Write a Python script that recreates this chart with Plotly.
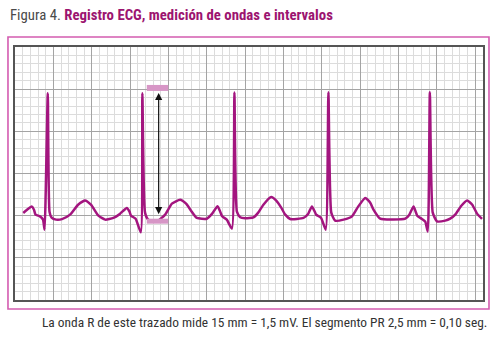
import plotly.graph_objects as go

# ECG trace: time (s) and voltage (mV)
time_s = [0.043, 0.063, 0.087, 0.099, 0.107, 0.130, 0.146, 0.154, 0.171, 0.180,
          0.191, 0.214, 0.245, 0.287, 0.329, 0.365, 0.396, 0.435, 0.470, 0.513,
          0.548, 0.583, 0.597, 0.605, 0.629, 0.656, 0.664, 0.678, 0.695, 0.739,
          0.783, 0.818, 0.861, 0.892, 0.918, 0.948, 1.000, 1.028, 1.056, 1.072,
          1.080, 1.104, 1.131, 1.144, 1.157, 1.174, 1.200, 1.243, 1.268, 1.295,
          1.336, 1.362, 1.388, 1.409, 1.435, 1.504, 1.529, 1.548, 1.563, 1.570,
          1.596, 1.620, 1.634, 1.649, 1.669, 1.713, 1.757, 1.789, 1.826, 1.852,
          1.869, 1.904, 2.035, 2.056, 2.078, 2.089, 2.097, 2.123, 2.139, 2.152,
          2.163, 2.178, 2.200, 2.243, 2.269, 2.295, 2.327, 2.357, 2.384, 2.409,
          2.435]
voltage_mv = [0.032, 0.071, 0.110, 0.071, 0.012, -0.008, -0.047, -0.166, 1.452, 0.047,
              -0.024, -0.047, -0.041, 0.012, 0.130, 0.181, 0.130, 0.000, -0.047, -0.027,
              0.024, 0.091, 0.047, 0.000, -0.036, -0.198, 1.452, 0.036, -0.047, -0.067,
              0.012, 0.142, 0.189, 0.142, 0.059, -0.027, -0.036, 0.024, 0.112, 0.036,
              -0.008, -0.047, -0.154, 1.459, 0.047, -0.018, -0.030, -0.020, 0.036, 0.130,
              0.221, 0.178, 0.095, 0.012, -0.039, -0.027, 0.024, 0.110, 0.047, 0.012,
              -0.027, -0.166, 1.462, 0.036, -0.059, -0.047, -0.008, 0.107, 0.209, 0.154,
              0.071, -0.036, -0.036, 0.012, 0.110, 0.047, 0.000, -0.041, -0.071, -0.189,
              1.462, 0.036, -0.067, -0.059, -0.036, 0.012, 0.118, 0.181, 0.130, 0.024,
              -0.039]

# R-wave measurement (second beat)
measure_t = [0.687, 0.799]
measure_x = 0.749
measure_top = [1.479, 1.550]
measure_bottom = [-0.095, -0.036]
arrow_top = 1.456
arrow_bottom = 0.0

x_range = [0, 2.44]
y_range = [-1.0, 2.0]

title_lead = "Figura 4. "
title_main = "Registro ECG, medición de ondas e intervalos"
caption = "La onda R de este trazado mide 15 mm = 1,5 mV. El segmento PR 2,5 mm = 0,10 seg."

TRACE = "#a3157f"
PINK = "#d45cb0"
MARK = "#d796c6"
FONT = "Liberation Sans Narrow, Roboto Condensed, Arial Narrow, sans-serif"

fig = go.Figure()
fig.add_trace(go.Scatter(x=time_s, y=voltage_mv, mode="lines",
                         line=dict(color=TRACE, width=2.5, shape="spline", smoothing=0.5),
                         hoverinfo="skip"))

fig.add_shape(type="rect", xref="x", yref="y", x0=measure_t[0], x1=measure_t[1],
              y0=measure_top[0], y1=measure_top[1], fillcolor=MARK, line=dict(width=0))
fig.add_shape(type="rect", xref="x", yref="y", x0=measure_t[0], x1=measure_t[1],
              y0=measure_bottom[0], y1=measure_bottom[1], fillcolor=MARK, line=dict(width=0))
fig.add_annotation(x=measure_x, y=arrow_top, ax=measure_x, ay=arrow_bottom,
                   xref="x", yref="y", axref="x", ayref="y", text="",
                   showarrow=True, arrowside="end+start", arrowhead=2, arrowsize=1.2,
                   arrowwidth=1.2, arrowcolor="#111111")

# outer pink frame
fig.add_shape(type="rect", xref="paper", yref="paper", x0=-0.015, x1=1.0128,
              y0=-0.0356, y1=1.0395, line=dict(color=PINK, width=1.6), layer="below")

fig.add_annotation(xref="paper", yref="paper", x=-0.0155, y=1.1265, xanchor="left",
                   yanchor="middle", showarrow=False,
                   text=f"<span style='color:#4a4a4a'>{title_lead}</span>"
                        f"<b><span style='color:#9c1470'>{title_main}</span></b>",
                   font=dict(family=FONT, size=14.8))
fig.add_annotation(xref="paper", yref="paper", x=1.0128, y=-0.0909, xanchor="right",
                   yanchor="middle", showarrow=False, text=caption,
                   font=dict(family=FONT, size=13.4, color="#333333"))

axis_common = dict(showticklabels=False, ticks="", zeroline=False, showline=True,
                   mirror=True, linecolor="#555555", linewidth=1.5,
                   showgrid=True, gridcolor="#a4a4a4", gridwidth=1.2)
fig.update_xaxes(range=x_range, tick0=0, dtick=0.2,
                 minor=dict(dtick=0.04, showgrid=True, gridcolor="#dcdcdc", gridwidth=1),
                 **axis_common)
fig.update_yaxes(range=y_range, tick0=0, dtick=0.5,
                 minor=dict(dtick=0.1, showgrid=True, gridcolor="#dcdcdc", gridwidth=1),
                 **axis_common)

fig.update_layout(width=500, height=340, margin=dict(l=15, r=17, t=47, b=40),
                  paper_bgcolor="white", plot_bgcolor="white", showlegend=False)

fig.write_html("out.html")
